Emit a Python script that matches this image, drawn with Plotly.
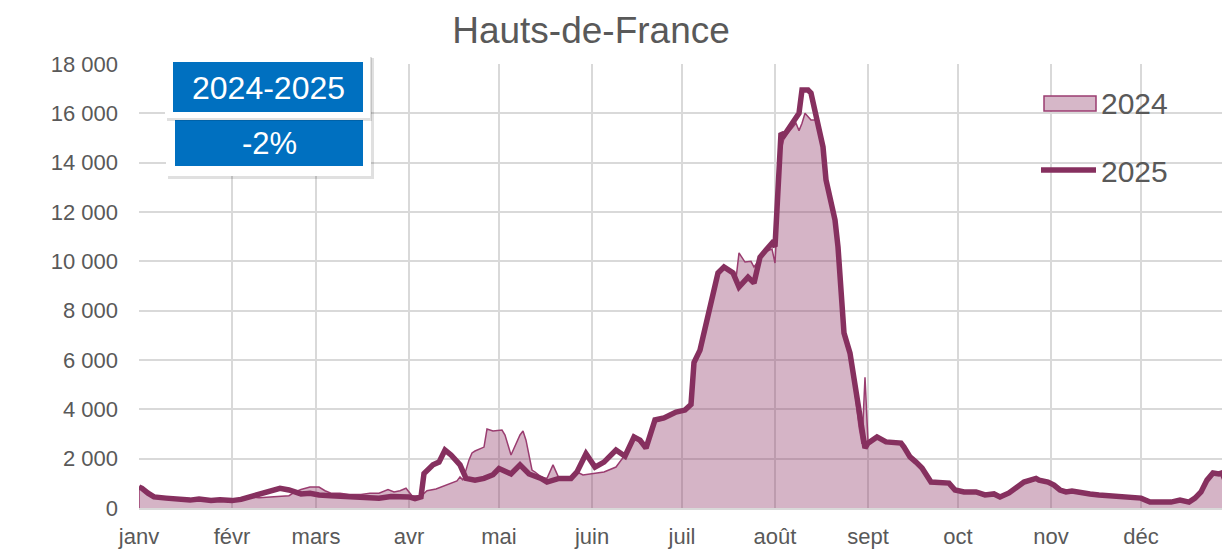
import plotly.graph_objects as go

# ---- data (day of year, 0 = 1 janvier) ----
month_days = [0, 31, 59, 90, 120, 151, 181, 212, 243, 273, 304, 334]
month_labels = ["janv", "févr", "mars", "avr", "mai", "juin", "juil", "août", "sept", "oct", "nov", "déc"]
y_ticks = [0, 2000, 4000, 6000, 8000, 10000, 12000, 14000, 16000, 18000]

days_2024 = [0, 0, 1, 3, 5, 9, 12, 17, 20, 24, 27, 31, 34, 37, 40, 44, 47, 50, 52, 54, 57, 60, 62, 64, 67, 70, 74,
             77, 80, 83, 85, 87, 89, 91, 94, 96, 99, 104, 106, 107, 108, 110, 111, 112, 115, 116, 118, 121,
             122, 124, 127, 128, 129, 131, 132, 134, 136, 138, 139, 140, 144, 146, 148, 152, 155, 159, 162,
             165, 167, 169, 172, 175, 179, 182, 184, 185, 187, 188, 190, 193, 195, 198, 199, 200, 202, 204,
             205, 207, 209, 211, 212, 214, 215, 217, 219, 220, 221, 222, 224, 226, 228, 229, 230, 232, 233,
             234, 235, 237, 238, 239, 240, 241, 242, 243, 246, 249, 252, 254, 255, 257, 259, 261, 264, 267,
             270, 272, 275, 279, 282, 285, 287, 290, 292, 295, 299, 300, 303, 305, 307, 309, 311, 314, 317,
             320, 324, 327, 330, 334, 337, 340, 344, 347, 350, 352, 354, 356, 358, 360, 361, 362, 364]
values_2024 = [0, 850, 800, 600, 450, 380, 330, 300, 350, 320, 330, 330, 380, 450, 420, 450, 480, 500, 650, 750,
               850, 850, 700, 600, 600, 550, 550, 600, 600, 750, 650, 700, 800, 500, 480, 700, 770, 1010,
               1100, 1260, 1130, 1950, 2230, 2310, 2470, 3200, 3120, 3160, 2960, 2150, 2960, 3120, 2750,
               1540, 1460, 1260, 1200, 1750, 1500, 1200, 1260, 1460, 1340, 1420, 1460, 1660, 2150, 2960,
               2630, 2430, 3500, 3600, 3900, 3950, 4200, 5800, 6400, 6900, 7850, 9500, 9700, 9500, 9300,
               10340, 9970, 10000, 9770, 10100, 10400, 10500, 9930, 14500, 15000, 15300, 15600, 15300,
               15600, 16000, 15730, 15730, 14640, 13300, 12700, 11600, 10600, 8700, 7200, 6400, 5400, 4400,
               3300, 2600, 5300, 2700, 2900, 2700, 2700, 2650, 2500, 2100, 1900, 1650, 1100, 1050, 1050, 750,
               650, 620, 560, 580, 480, 650, 850, 1050, 1150, 1150, 1050, 950, 750, 650, 700, 620, 580, 540,
               500, 480, 450, 400, 250, 230, 250, 300, 250, 420, 650, 1100, 1400, 1380, 1400, 1150, 950]

days_2025 = [0, 1, 3, 5, 9, 12, 17, 20, 24, 27, 31, 34, 37, 40, 44, 47, 50, 54, 57, 60, 64, 67, 70, 74, 77, 80,
             84, 87, 90, 92, 94, 95, 98, 100, 102, 104, 107, 109, 112, 115, 118, 120, 124, 127, 130, 134, 136,
             140, 144, 146, 149, 152, 155, 159, 162, 165, 167, 169, 172, 175, 179, 182, 184, 185, 187, 188,
             190, 193, 195, 198, 200, 203, 205, 207, 209, 211, 212, 214, 215, 217, 219, 220, 221, 223, 224,
             226, 228, 229, 230, 232, 233, 234, 235, 237, 238, 240, 241, 242, 243, 246, 249, 252, 254, 255,
             257, 259, 261, 264, 267, 270, 272, 275, 279, 282, 285, 287, 290, 292, 295, 299, 300, 303, 305,
             307, 309, 311, 314, 317, 320, 324, 327, 330, 334, 337, 340, 344, 347, 350, 352, 354, 356, 358,
             360, 361, 362, 364]
values_2025 = [850, 800, 600, 450, 400, 350, 320, 360, 300, 330, 300, 350, 450, 600, 690, 800, 730, 570, 600,
               530, 500, 490, 470, 450, 420, 400, 470, 450, 450, 380, 450, 1400, 1750, 1860, 2350, 2150, 1750,
               1200, 1130, 1200, 1350, 1600, 1380, 1750, 1380, 1200, 1050, 1200, 1200, 1460, 2200, 1660,
               1860, 2350, 2100, 2880, 2750, 2430, 3570, 3650, 3890, 3970, 4200, 5900, 6400, 6930, 7900,
               9530, 9770, 9530, 8960, 9360, 9120, 10170, 10460, 10740, 10600, 15200, 15100, 15450, 15850,
               16000, 16950, 16950, 16820, 15730, 14640, 13300, 12770, 11680, 10580, 8550, 7090, 6280, 5470,
               3850, 2880, 2430, 2630, 2880, 2680, 2680, 2630, 2470, 2070, 1860, 1620, 1050, 1050, 1010, 730,
               650, 650, 530, 570, 450, 610, 810, 1050, 1200, 1130, 1050, 930, 730, 650, 690, 610, 570, 530,
               490, 490, 450, 400, 240, 240, 240, 320, 240, 400, 650, 1130, 1420, 1380, 1420, 1130, 930]

series_names = ["2024", "2025"]
title_text = "Hauts-de-France"
box_period = "2024-2025"
box_change = "-2%"

GREY = "#595959"
LINE = "#86305F"
LINE_THIN = "#9A3D70"
FILL = "rgba(139,48,98,0.36)"
FONT = "Liberation Sans, Arial, sans-serif"

# The page body has an 8px margin: the figure is sized so that it fills the window exactly.
OFF = 8
W, H = 1230 - OFF, 556 - OFF
PL, PT, PR, PB = 139, 64, 1230, 508          # plot area in window pixels
L, T = PL - OFF, PT - OFF
R, B = (1230 - PR), (556 - PB)
PW, PH = PR - PL, PB - PT


def px(x):
    return (x - PL) / PW


def py(y):
    return (PB - y) / PH


fig = go.Figure()
fig.add_trace(go.Scatter(
    x=days_2024, y=values_2024, name=series_names[0], mode="lines", showlegend=False,
    line=dict(color=LINE_THIN, width=1.5), fill="tozeroy", fillcolor=FILL,
))
fig.add_trace(go.Scatter(
    x=days_2025, y=values_2025, name=series_names[1], mode="lines", showlegend=True,
    line=dict(color=LINE, width=5.5), legend="legend2",
))

fig.update_layout(
    width=W, height=H,
    margin=dict(l=L, r=R, t=T, b=B),
    paper_bgcolor="white", plot_bgcolor="white",
    showlegend=True,
    separators=", ",
    font=dict(family=FONT, color=GREY, size=22),
    title=dict(text=title_text, x=(591 - OFF) / W, xanchor="center", y=1 - (30 - OFF) / H,
               yanchor="middle", font=dict(size=37, color=GREY, family=FONT)),
    xaxis=dict(range=[0, PW / 3.0], tickvals=month_days, ticktext=month_labels,
               showgrid=True, gridcolor="#D9D9D9", gridwidth=2, zeroline=False,
               showline=True, linecolor="#D9D9D9", linewidth=2, ticks="",
               ticklabelstandoff=8, tickfont=dict(size=22, color=GREY)),
    yaxis=dict(range=[0, 18000], tickvals=y_ticks, tickformat=",d",
               showgrid=True, gridcolor="#D9D9D9", gridwidth=2, zeroline=False,
               showline=False, ticks="", ticklabelstandoff=20,
               tickfont=dict(size=22, color=GREY)),
    legend2=dict(x=px(1036), y=py(170), xanchor="left", yanchor="middle", bgcolor="rgba(0,0,0,0)",
                 font=dict(size=30, color=GREY), itemwidth=55),
)

# Info box (shadow + white card + blue labels) and the 2024 area legend key
shapes = [
    dict(type="rect", xref="paper", yref="paper", x0=px(168), x1=px(374), y0=py(58), y1=py(179),
         fillcolor="rgba(0,0,0,0.12)", line=dict(width=0), layer="above"),
    dict(type="rect", xref="paper", yref="paper", x0=px(166), x1=px(371), y0=py(55), y1=py(176),
         fillcolor="white", line=dict(width=0), layer="above"),
    dict(type="rect", xref="paper", yref="paper", x0=px(175), x1=px(363), y0=py(120), y1=py(166),
         fillcolor="#0070C0", line=dict(width=0), layer="above"),
    dict(type="rect", xref="paper", yref="paper", x0=px(167), x1=px(372), y0=py(57), y1=py(121),
         fillcolor="rgba(0,0,0,0.12)", line=dict(width=0), layer="above"),
    dict(type="rect", xref="paper", yref="paper", x0=px(165), x1=px(370), y0=py(55), y1=py(118),
         fillcolor="white", line=dict(width=0), layer="above"),
    dict(type="rect", xref="paper", yref="paper", x0=px(173), x1=px(363), y0=py(62), y1=py(112),
         fillcolor="#0070C0", line=dict(width=0), layer="above"),
    dict(type="rect", xref="paper", yref="paper", x0=px(1044), x1=px(1096), y0=py(96), y1=py(111),
         fillcolor="#D6B7C8", line=dict(color=LINE_THIN, width=1.5), layer="above"),
]
fig.update_layout(shapes=shapes)
fig.add_annotation(xref="paper", yref="paper", x=px(1099), y=py(104), text=series_names[0], showarrow=False,
                   xanchor="left", yanchor="middle", font=dict(size=30, color=GREY, family=FONT))
fig.add_annotation(xref="paper", yref="paper", x=px(268), y=py(88), text=box_period, showarrow=False,
                   xanchor="center", yanchor="middle", font=dict(size=32, color="white", family=FONT))
fig.add_annotation(xref="paper", yref="paper", x=px(269), y=py(143), text=box_change, showarrow=False,
                   xanchor="center", yanchor="middle", font=dict(size=31, color="white", family=FONT))

fig.write_html("out.html")
